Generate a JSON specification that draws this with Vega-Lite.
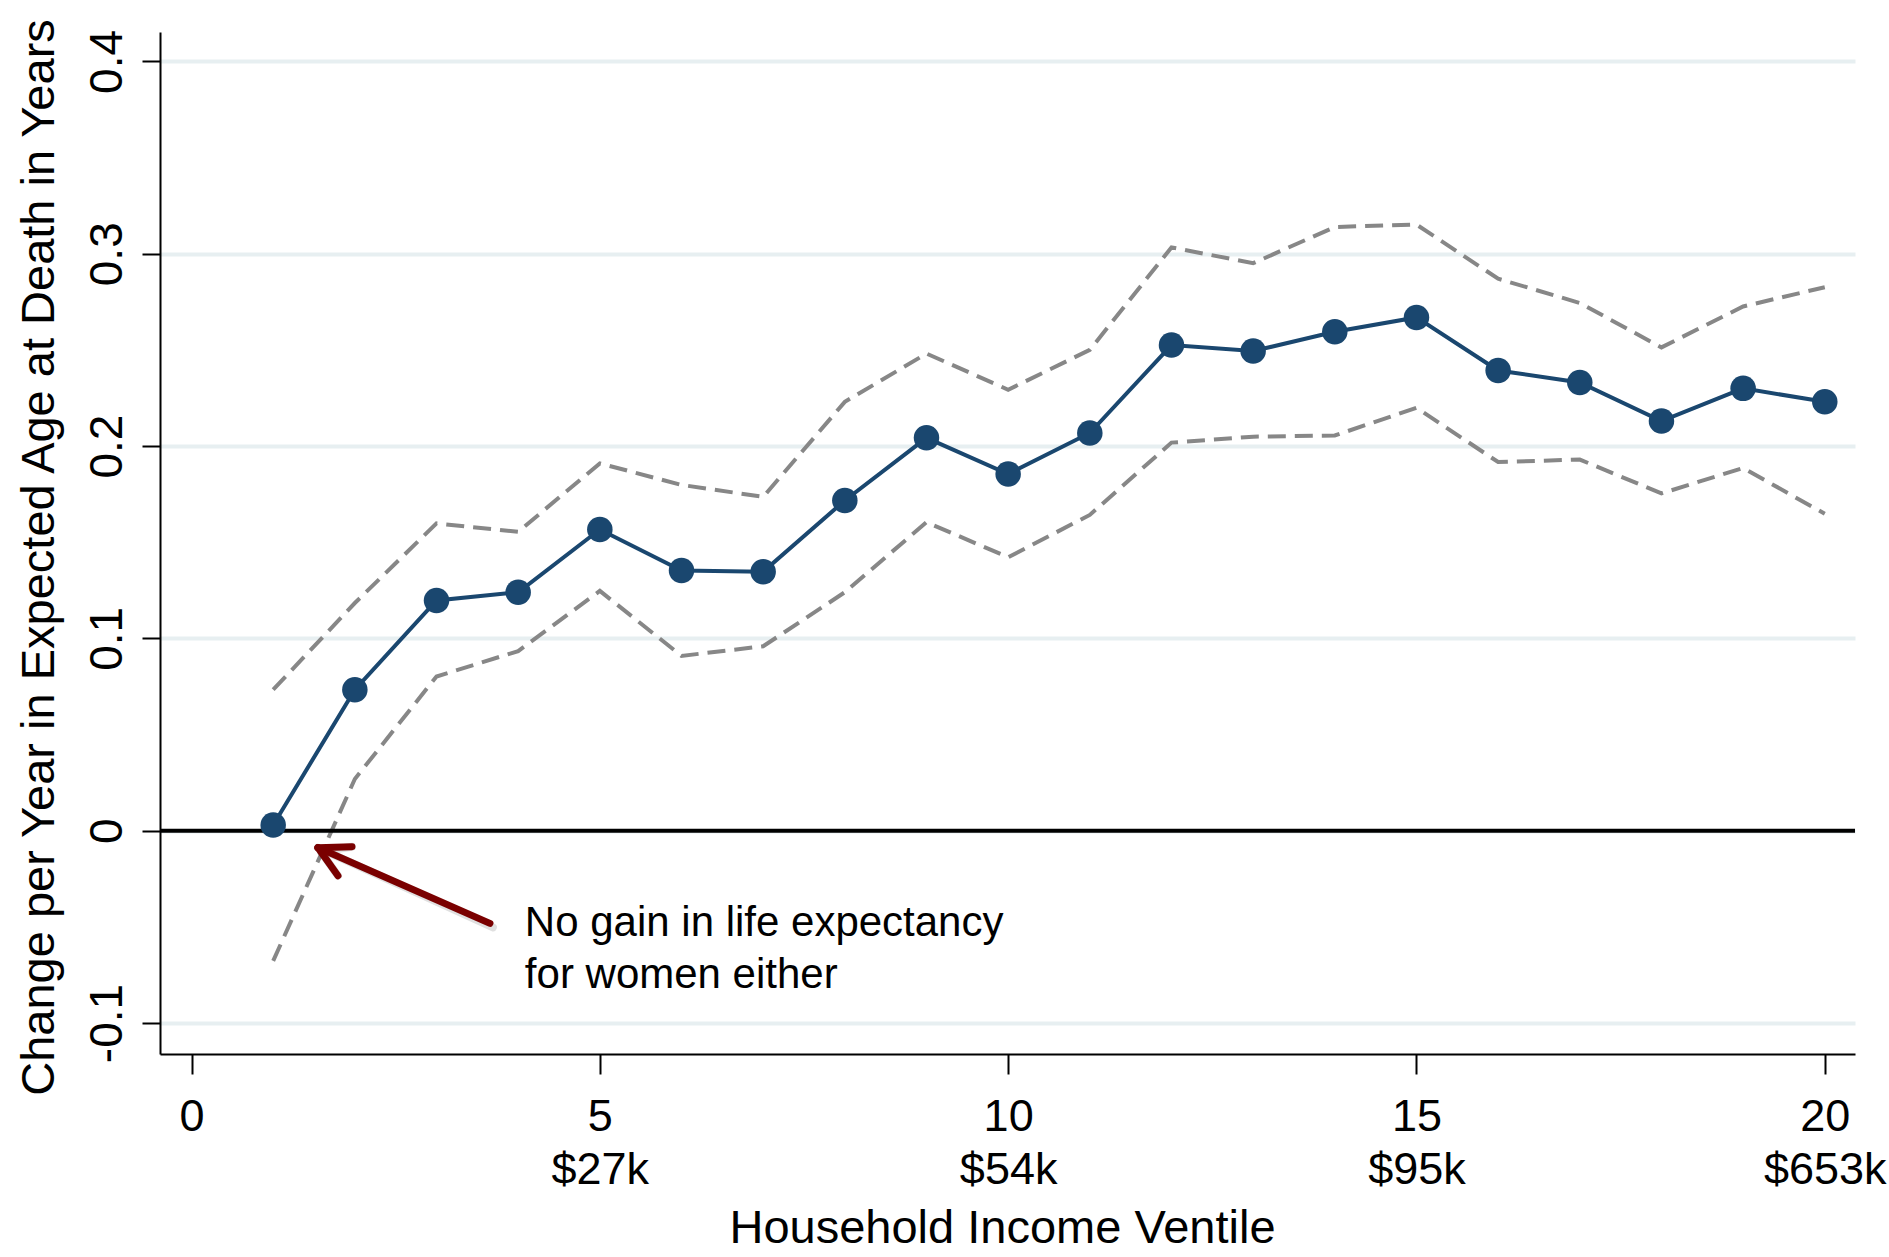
{
  "$schema": "https://vega.github.io/schema/vega-lite/v6.json",
  "width": 1695,
  "height": 1022,
  "autosize": {"type": "none"},
  "padding": {"left": 160, "top": 32, "right": 34, "bottom": 203},
  "background": "white",
  "config": {
    "view": {"stroke": null},
    "font": "Liberation Sans",
    "axis": {"labelColor": "black", "titleColor": "black", "domainColor": "black", "tickColor": "black", "domainWidth": 2, "tickWidth": 2, "titleFontWeight": "normal"}
  },
  "datasets": {
    "series": [
      {"ventile": 1, "est": 0.003, "lo": -0.0677, "hi": 0.0733},
      {"ventile": 2, "est": 0.0733, "lo": 0.0269, "hi": 0.1184},
      {"ventile": 3, "est": 0.1197, "lo": 0.0802, "hi": 0.1598},
      {"ventile": 4, "est": 0.124, "lo": 0.0934, "hi": 0.1554},
      {"ventile": 5, "est": 0.1566, "lo": 0.1247, "hi": 0.191},
      {"ventile": 6, "est": 0.1353, "lo": 0.0909, "hi": 0.1798},
      {"ventile": 7, "est": 0.1347, "lo": 0.0959, "hi": 0.1736},
      {"ventile": 8, "est": 0.1717, "lo": 0.124, "hi": 0.223},
      {"ventile": 9, "est": 0.2043, "lo": 0.1604, "hi": 0.2481},
      {"ventile": 10, "est": 0.1855, "lo": 0.1422, "hi": 0.2293},
      {"ventile": 11, "est": 0.2068, "lo": 0.1642, "hi": 0.25},
      {"ventile": 12, "est": 0.2525, "lo": 0.2018, "hi": 0.3033},
      {"ventile": 13, "est": 0.2494, "lo": 0.2049, "hi": 0.2951},
      {"ventile": 14, "est": 0.2594, "lo": 0.2055, "hi": 0.3139},
      {"ventile": 15, "est": 0.2669, "lo": 0.2199, "hi": 0.3152},
      {"ventile": 16, "est": 0.2393, "lo": 0.1917, "hi": 0.287},
      {"ventile": 17, "est": 0.2331, "lo": 0.193, "hi": 0.2744},
      {"ventile": 18, "est": 0.213, "lo": 0.1754, "hi": 0.2513},
      {"ventile": 19, "est": 0.23, "lo": 0.1886, "hi": 0.2726},
      {"ventile": 20, "est": 0.223, "lo": 0.1648, "hi": 0.2826}
    ],
    "zero": [{"y": 0}],
    "arrow": [
      {"x": 3.654, "y": -0.0482, "x2": 1.548, "y2": -0.0088},
      {"x": 1.548, "y": -0.0088, "x2": 1.965, "y2": -0.0083},
      {"x": 1.548, "y": -0.0088, "x2": 1.793, "y2": -0.0234}
    ],
    "note": [{"x": 4.082, "y": -0.0545, "label": "No gain in life expectancy\nfor women either"}]
  },
  "layer": [
    {
      "data": {"name": "series"},
      "mark": {"type": "line", "color": "#878787", "strokeWidth": 4, "strokeDash": [18, 9]},
      "encoding": {
        "x": {
          "field": "ventile", "type": "quantitative",
          "scale": {"domain": [-0.386, 20.37], "nice": false, "zero": false},
          "axis": {
            "values": [0, 5, 10, 15, 20],
            "labelExpr": "datum.value == 0 ? '0' : [format(datum.value, 'd'), datum.value == 5 ? '$27k' : datum.value == 10 ? '$54k' : datum.value == 15 ? '$95k' : '$653k']",
            "labelFontSize": 45, "labelLineHeight": 53, "labelFlush": false, "labelPadding": 20, "labelBaseline": "top",
            "tickSize": 20, "grid": false,
            "title": "Household Income Ventile", "titleFontSize": 47, "titleX": 842, "titleY": 188, "titleBaseline": "alphabetic", "titleAlign": "center"
          }
        },
        "y": {
          "field": "lo", "type": "quantitative",
          "scale": {"domain": [-0.1161, 0.4153], "nice": false, "zero": false},
          "axis": {
            "values": [-0.1, 0, 0.1, 0.2, 0.3, 0.4],
            "labelExpr": "datum.value == 0 ? '0' : (datum.value < 0 ? '-' : '') + format(abs(datum.value), '.1f')",
            "labelAngle": -90, "labelAlign": "center", "labelBaseline": "alphabetic", "labelFontSize": 46, "labelPadding": 21, "labelFlush": false,
            "tickSize": 18,
            "grid": true, "gridColor": "#e7eff1", "gridWidth": 4,
            "title": "Change per Year in Expected Age at Death in Years", "titleFontSize": 47, "titleAngle": -90, "titleBaseline": "alphabetic", "titleAlign": "center", "titleX": -107, "titleY": 525
          }
        }
      }
    },
    {
      "data": {"name": "series"},
      "mark": {"type": "line", "color": "#878787", "strokeWidth": 4, "strokeDash": [18, 9]},
      "encoding": {
        "x": {"field": "ventile", "type": "quantitative"},
        "y": {"field": "hi", "type": "quantitative"}
      }
    },
    {
      "data": {"name": "zero"},
      "mark": {"type": "rule", "color": "black", "strokeWidth": 4},
      "encoding": {"y": {"field": "y", "type": "quantitative"}}
    },
    {
      "data": {"name": "series"},
      "mark": {"type": "line", "color": "#1a476f", "strokeWidth": 4, "point": {"filled": true, "size": 650, "color": "#1a476f", "opacity": 1}},
      "encoding": {
        "x": {"field": "ventile", "type": "quantitative"},
        "y": {"field": "est", "type": "quantitative"}
      }
    },
    {
      "data": {"name": "arrow"},
      "mark": {"type": "rule", "color": "#000000", "opacity": 0.12, "strokeWidth": 8, "strokeCap": "round", "xOffset": 3, "yOffset": 4},
      "encoding": {
        "x": {"field": "x", "type": "quantitative"},
        "y": {"field": "y", "type": "quantitative"},
        "x2": {"field": "x2"},
        "y2": {"field": "y2"}
      }
    },
    {
      "data": {"name": "arrow"},
      "mark": {"type": "rule", "color": "#7a0000", "strokeWidth": 7, "strokeCap": "round"},
      "encoding": {
        "x": {"field": "x", "type": "quantitative"},
        "y": {"field": "y", "type": "quantitative"},
        "x2": {"field": "x2"},
        "y2": {"field": "y2"}
      }
    },
    {
      "data": {"name": "note"},
      "mark": {"type": "text", "align": "left", "baseline": "alphabetic", "fontSize": 42, "lineHeight": 52, "lineBreak": "\n", "color": "black"},
      "encoding": {
        "x": {"field": "x", "type": "quantitative"},
        "y": {"field": "y", "type": "quantitative"},
        "text": {"field": "label"}
      }
    }
  ]
}
